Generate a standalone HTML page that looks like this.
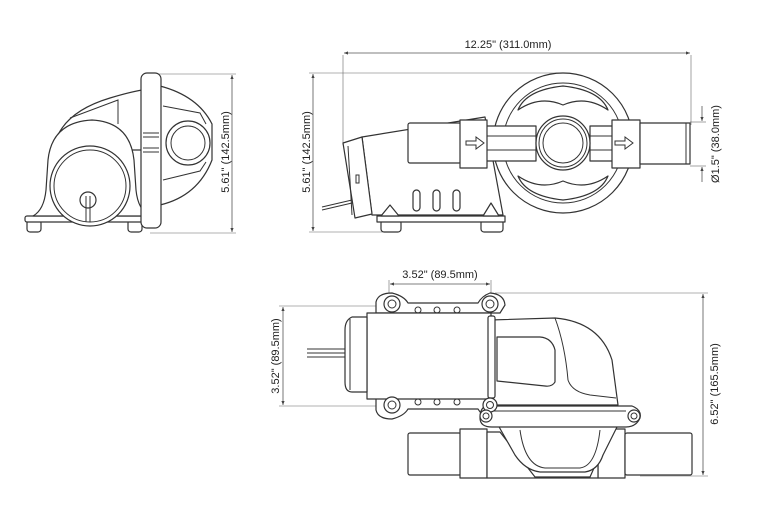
<!DOCTYPE html>
<html><head><meta charset="utf-8"><style>
html,body{margin:0;padding:0;background:#fff;}
svg{display:block;}
text{font-family:"Liberation Sans",sans-serif;font-size:11px;fill:#222;}
.s{fill:#fff;stroke:#333;stroke-width:1.2;stroke-linejoin:round;}
.n{fill:none;stroke:#333;stroke-width:1;}
.d{fill:none;stroke:#555;stroke-width:0.8;}
.t{fill:none;stroke:#666;stroke-width:0.6;}
</style></head><body>
<svg width="773" height="514" viewBox="0 0 773 514" xmlns="http://www.w3.org/2000/svg">
<defs>
<marker id="a" viewBox="0 0 10 10" refX="10" refY="5" markerWidth="5" markerHeight="5" orient="auto-start-reverse"><path d="M0,1 L10,5 L0,9z" fill="#444"/></marker>
</defs>

<!-- ===== VIEW 1 (side) ===== -->
<line class="t" x1="145" y1="74" x2="236" y2="74"/>
<line class="t" x1="150" y1="233" x2="236" y2="233"/>
<line class="d" x1="232" y1="75" x2="232" y2="232" marker-start="url(#a)" marker-end="url(#a)"/>
<text transform="translate(232,152) rotate(-90)" text-anchor="middle" dy="-3">5.61" (142.5mm)</text>
<!-- base & feet -->
<rect class="s" x="27" y="220" width="14" height="12" rx="3"/>
<rect class="s" x="128" y="220" width="14" height="12" rx="3"/>
<rect class="s" x="25" y="216" width="126" height="6" rx="2"/>
<!-- hump -->
<path class="s" d="M58,135 Q70,110 110,98 Q130,92 142,90 L142,150 L60,150z"/>
<path class="n" d="M70,118 L118,100 L118,124"/>
<!-- motor housing -->
<path class="s" d="M33,216 Q44,210 46,190 L48,160 Q52,122 92,120 Q130,122 134,160 L136,190 Q138,210 150,216z"/>
<circle class="s" cx="90" cy="186" r="40"/>
<circle class="n" cx="90" cy="186" r="36"/>
<circle class="s" cx="88" cy="200" r="8"/>
<path class="n" d="M86,196 V222 M90,196 V222"/>
<!-- dome -->
<path class="s" d="M160,86 Q198,96 212,124 L212,160 Q198,196 160,205z"/>
<path class="n" d="M163,106 L200,113 L206,124 M163,180 L200,171 L206,162"/>
<circle class="s" cx="188" cy="143" r="22"/>
<circle class="n" cx="188" cy="143" r="17"/>
<!-- flange -->
<rect class="s" x="141" y="73" width="20" height="155" rx="6"/>
<path class="n" d="M143,133 H159 M143,137 H159 M143,148 H159 M143,152 H159"/>

<!-- ===== VIEW 2 (front) ===== -->
<line class="t" x1="343" y1="55" x2="343" y2="145"/>
<line class="t" x1="691" y1="55" x2="691" y2="125"/>
<line class="d" x1="344" y1="53" x2="690" y2="53" marker-start="url(#a)" marker-end="url(#a)"/>
<text x="508" y="48" text-anchor="middle">12.25" (311.0mm)</text>
<line class="t" x1="309" y1="73" x2="563" y2="73"/>
<line class="t" x1="309" y1="232" x2="390" y2="232"/>
<line class="d" x1="313" y1="74" x2="313" y2="231" marker-start="url(#a)" marker-end="url(#a)"/>
<text transform="translate(313,152) rotate(-90)" text-anchor="middle" dy="-3">5.61" (142.5mm)</text>
<!-- big wheel -->
<circle class="s" cx="563" cy="143" r="70"/>
<circle class="n" cx="563" cy="143" r="60"/>
<path class="s" d="M518,110 Q540,95 563,105 Q586,95 608,110 Q600,90 563,86 Q526,90 518,110z"/>
<path class="s" d="M518,176 Q540,191 563,181 Q586,191 608,176 Q600,196 563,200 Q526,196 518,176z"/>
<!-- motor body -->
<path class="s" d="M362,137 L485,117 L503,215 L372,215z"/>
<path class="s" d="M343,143 L362,137 L372,214 L355,218z"/>
<path class="n" d="M348,146 L352,215"/>
<rect class="n" x="356" y="175" width="3" height="8"/>
<path class="n" d="M322,207 L352,200 M322,210 L352,203"/>
<rect class="s" x="413" y="190" width="7" height="21" rx="3.5"/>
<rect class="s" x="433" y="190" width="7" height="21" rx="3.5"/>
<rect class="s" x="453" y="190" width="7" height="21" rx="3.5"/>
<rect class="s" x="381" y="220" width="20" height="12" rx="3"/>
<rect class="s" x="481" y="220" width="22" height="12" rx="3"/>
<path class="s" d="M377,216 H505 V222 H377z"/>
<path class="s" d="M381,216 L390,205 L399,216z"/>
<path class="s" d="M483,216 L491,203 L499,216z"/>
<!-- pipes -->
<rect class="s" x="408" y="123" width="53" height="40" rx="2"/>
<rect class="s" x="486" y="126" width="50" height="35"/>
<path class="n" d="M486,136 H536 M486,150 H536"/>
<rect class="s" x="590" y="126" width="24" height="35"/>
<path class="n" d="M590,136 H614 M590,150 H614"/>
<rect class="s" x="460" y="120" width="27" height="48"/>
<rect class="s" x="612" y="120" width="28" height="48"/>
<rect class="s" x="640" y="123" width="50" height="41"/>
<line class="n" x1="686" y1="123" x2="686" y2="164"/>
<path class="n" d="M466,141 H476 V137 L484,143 L476,149 V145 H466z"/>
<path class="n" d="M615,141 H625 V137 L633,143 L625,149 V145 H615z"/>
<circle class="s" cx="563" cy="143" r="27"/>
<circle class="n" cx="563" cy="143" r="24"/>
<circle class="n" cx="563" cy="143" r="20"/>
<!-- dia dim -->
<line class="t" x1="690" y1="122" x2="706" y2="122"/>
<line class="t" x1="690" y1="166" x2="706" y2="166"/>
<line class="d" x1="702" y1="106" x2="702" y2="121" marker-end="url(#a)"/>
<line class="d" x1="702" y1="182" x2="702" y2="167" marker-end="url(#a)"/>
<text transform="translate(715,144) rotate(-90)" text-anchor="middle" dy="4">Ø1.5" (38.0mm)</text>

<!-- ===== VIEW 3 (top) ===== -->
<line class="t" x1="389" y1="280" x2="389" y2="300"/>
<line class="t" x1="491" y1="280" x2="491" y2="300"/>
<line class="d" x1="390" y1="284" x2="490" y2="284" marker-start="url(#a)" marker-end="url(#a)"/>
<text x="440" y="278" text-anchor="middle">3.52" (89.5mm)</text>
<line class="t" x1="279" y1="306" x2="392" y2="306"/>
<line class="t" x1="279" y1="406" x2="392" y2="406"/>
<line class="d" x1="283" y1="307" x2="283" y2="405" marker-start="url(#a)" marker-end="url(#a)"/>
<text transform="translate(283,356) rotate(-90)" text-anchor="middle" dy="-4">3.52" (89.5mm)</text>
<line class="t" x1="495" y1="293" x2="708" y2="293"/>
<line class="t" x1="640" y1="476" x2="708" y2="476"/>
<line class="d" x1="703" y1="294" x2="703" y2="475" marker-start="url(#a)" marker-end="url(#a)"/>
<text transform="translate(703,384) rotate(-90)" text-anchor="middle" dy="15">6.52" (165.5mm)</text>
<!-- pipes bottom -->
<rect class="s" x="408" y="433" width="53" height="42" rx="2"/>
<rect class="s" x="460" y="429" width="27" height="49"/>
<rect class="s" x="598" y="429" width="27" height="49"/>
<rect class="s" x="625" y="433" width="67" height="42" rx="2"/>
<path class="s" d="M487,432 L500,432 L535,477 L590,477 L610,432 L598,432 L598,478 L487,478z"/>
<path class="s" d="M498,425 L515,455 Q525,470 540,472 L585,472 Q598,470 603,455 L618,425z"/>
<path class="n" d="M520,430 Q525,466 545,468 L580,468 Q596,466 600,430"/>
<!-- flanges -->
<path class="s" d="M376,313 L376,302 Q378,293 392,293 Q404,296 408,303 L478,303 Q482,296 490,293 Q504,294 505,305 L500,313z"/>
<path class="s" d="M376,398 L376,410 Q378,419 392,419 Q404,416 408,409 L478,409 Q482,416 490,419 Q504,418 505,407 L500,398z"/>
<g class="n"><circle cx="418" cy="310" r="3"/><circle cx="437" cy="310" r="3"/><circle cx="457" cy="310" r="3"/><circle cx="418" cy="402" r="3"/><circle cx="437" cy="402" r="3"/><circle cx="457" cy="402" r="3"/></g>
<!-- elbow -->
<path class="s" d="M490,320 L555,318 Q600,322 612,360 L618,405 L490,405z"/>
<path class="n" d="M555,318 Q565,345 568,380 Q572,392 590,395 L616,398"/>
<path class="s" d="M497,337 L540,337 Q552,338 555,350 L555,382 Q552,387 545,386 L497,381z"/>
<!-- motor -->
<rect class="s" x="367" y="313" width="124" height="86"/>
<rect class="s" x="488" y="316" width="7" height="82" rx="2"/>
<path class="s" d="M367,317 L352,317 Q345,320 345,330 L345,382 Q345,392 352,392 L367,392z"/>
<line class="n" x1="350" y1="319" x2="350" y2="390"/>
<path class="n" d="M307,349 H345 M307,353 H345 M307,357 H345"/>
<!-- bolts -->
<g><circle class="s" cx="392" cy="304" r="8"/><circle class="n" cx="392" cy="304" r="4"/>
<circle class="s" cx="490" cy="304" r="8"/><circle class="n" cx="490" cy="304" r="4"/>
<circle class="s" cx="392" cy="405" r="8"/><circle class="n" cx="392" cy="405" r="4"/></g>
<!-- flange plate -->
<path class="s" d="M486,406 L632,406 Q642,410 640,418 Q636,427 626,427 L492,427 Q480,427 480,418 Q480,408 486,406z"/>
<line class="n" x1="492" y1="411" x2="626" y2="411"/>
<circle class="s" cx="490" cy="405" r="7"/><circle class="n" cx="490" cy="405" r="3.5"/>
<circle class="s" cx="486" cy="416" r="6"/><circle class="n" cx="486" cy="416" r="3"/>
<circle class="s" cx="634" cy="416" r="6"/><circle class="n" cx="634" cy="416" r="3"/>
</svg>
</body></html>
